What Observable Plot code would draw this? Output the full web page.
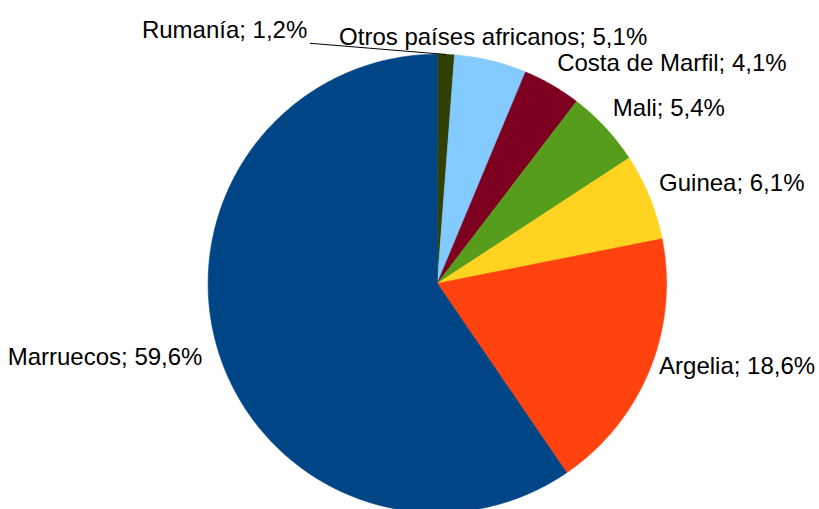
<!DOCTYPE html>
<html>
<head>
<meta charset="utf-8">
<script src="https://cdn.jsdelivr.net/npm/d3@7"></script>
<script src="https://cdn.jsdelivr.net/npm/@observablehq/plot@0.6"></script>
<style>
  html, body { margin: 0; padding: 0; background: #fff; }
  #chart { width: 819px; height: 509px; overflow: hidden; }
</style>
</head>
<body>
<div id="chart"></div>
<script>
// ---- data ----
const names  = ["Rumanía", "Otros países africanos", "Costa de Marfil", "Mali", "Guinea", "Argelia", "Marruecos"];
const shares = [1.2, 5.1, 4.1, 5.4, 6.1, 18.6, 59.6];
const colors = ["#314004", "#83caff", "#7e0021", "#579d1c", "#ffd320", "#ff420e", "#004586"];

// ---- layout ----
const W = 819, H = 509;
const R = 229.2, CX = 436.8, CY = 283;
const FONT = "'Liberation Sans', Arial, sans-serif";

const total = d3.sum(shares);
let acc = 0;
const slices = names.map((name, i) => {
  const a0 = acc / total * 2 * Math.PI;
  acc += shares[i];
  const a1 = acc / total * 2 * Math.PI;
  return {name, share: shares[i], a0, a1, mid: (a0 + a1) / 2,
          label: `${name}; ${String(shares[i]).replace(".", ",")}%`};
});

// polygon outline of every slice (unit radius, clockwise from 12 o'clock)
const pts = slices.flatMap(s => {
  const n = Math.max(4, Math.ceil((s.a1 - s.a0) / (Math.PI / 360)));
  const arr = [{name: s.name, x: 0, y: 0}];
  for (let k = 0; k <= n; k++) {
    const a = s.a0 + (s.a1 - s.a0) * k / n;
    arr.push({name: s.name, x: Math.sin(a), y: -Math.cos(a)});
  }
  arr.push({name: s.name, x: 0, y: 0});
  return arr;
});

// label placement
const rl = 1.045;
const labelData = [];
const leader = [];
slices.forEach((s, i) => {
  const sx = Math.sin(s.mid), cy = Math.cos(s.mid);
  if (i === 0 && s.share < 2) {
    // smallest slice at the top: label shifted left with a leader line
    labelData.push({label: s.label, anchor: "end", x: -130 / R, y: -(R + 23.7) / R});
    leader.push({x: -127 / R, y: -(R + 11) / R}, {x: sx, y: -cy});
    return;
  }
  const anchor = Math.abs(sx) < 0.3 ? "middle" : (sx > 0 ? "start" : "end");
  const dyPx = sx >= 0 ? -7.7 - 6 * Math.max(0, cy) : 3;
  const dxPx = (cy < 0 && sx < 0) ? -6 : 0;
  labelData.push({label: s.label, anchor, x: rl * sx + dxPx / R, y: -rl * cy + dyPx / R});
});

const textMarks = ["start", "middle", "end"].map(anchor =>
  Plot.text(labelData.filter(d => d.anchor === anchor), {
    x: "x", y: "y", text: "label", textAnchor: anchor, lineAnchor: "middle",
    fill: "#000", fontSize: 24, fontFamily: FONT
  })
);

const chart = Plot.plot({
  width: W, height: H,
  margin: 0,
  style: {background: "#fff", fontFamily: FONT},
  x: {domain: [-CX / R, (W - CX) / R], range: [0, W], axis: null},
  y: {domain: [-CY / R, (H - CY) / R], range: [0, H], axis: null},
  color: {domain: names, range: colors},
  marks: [
    Plot.line(pts, {x: "x", y: "y", z: "name", fill: "name", stroke: "name", strokeWidth: 0.6, curve: "linear"}),
    Plot.line(leader, {x: "x", y: "y", stroke: "#000", strokeWidth: 1}),
    ...textMarks
  ]
});
document.getElementById("chart").appendChild(chart);
</script>
</body>
</html>
